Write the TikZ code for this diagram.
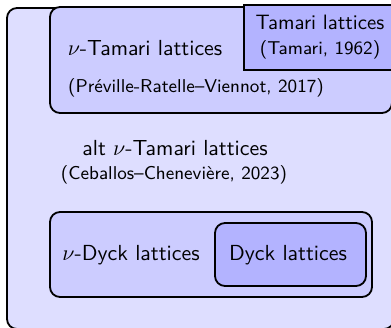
\documentclass[tikz,border=0pt]{standalone}
\usepackage{fontspec}
\begin{document}
\begin{tikzpicture}[x=0.5pt,y=-0.5pt,
  box/.style={draw=black,line width=0.9pt,rounded corners=5pt},
  lbl/.style={inner sep=0pt,font=\sffamily\fontsize{10.9}{13}\selectfont},
  cite/.style={inner sep=0pt,font=\sffamily\fontsize{9.3}{11}\selectfont}]
\useasboundingbox (0,0) rectangle (391,327);
\clip (0,0) rectangle (391,327);
\definecolor{outerc}{RGB}{222,222,255}
\definecolor{midc}{RGB}{204,204,255}
\definecolor{innerc}{RGB}{179,179,255}
\draw[box,fill=outerc] (7,8) rectangle (394,329);
\draw[box,fill=midc] (50,7) rectangle (392,113);
\draw[draw=black,line width=0.9pt,fill=innerc] (244,5) rectangle (400,70);
\draw[box,fill=midc] (50,212) rectangle (372,297);
\draw[box,fill=innerc] (215,223) rectangle (366,286);
\node[lbl] (nt) at (145,48) {$\nu$-Tamari lattices};
\node[cite] (ntc) at (196,88) {(Préville-Ratelle–Viennot, 2017)};
\node[lbl,font=\sffamily\fontsize{10.4}{12}\selectfont] (t) at (320,22) {Tamari lattices};
\node[cite] (tc) at (320,50) {(Tamari, 1962)};
\node[lbl] (alt) at (175,148) {alt $\nu$-Tamari lattices};
\node[cite] (altc) at (174,175) {(Ceballos–Chenevière, 2023)};
\node[lbl] (nd) at (131,255) {$\nu$-Dyck lattices};
\node[lbl] (d) at (288,255) {Dyck lattices};
\end{tikzpicture}
\end{document}
